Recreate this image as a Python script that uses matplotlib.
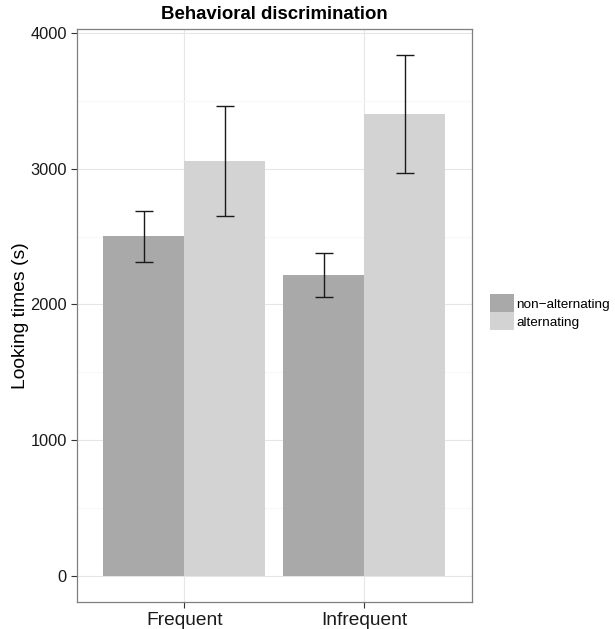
"""
Behavioral discrimination bar chart (looking times by condition)
"""
import matplotlib
matplotlib.use("Agg")
import matplotlib.pyplot as plt
import numpy as np
from matplotlib.ticker import MultipleLocator

plt.rcParams['font.family'] = ['Liberation Sans', 'DejaVu Sans']

# data
categories = ["Frequent", "Infrequent"]
series = ["non\u2212alternating", "alternating"]
means = {
    "non\u2212alternating": [2505, 2218],
    "alternating": [3058, 3405],
}
lower = {
    "non\u2212alternating": [2314, 2058],
    "alternating": [2648, 2968],
}
upper = {
    "non\u2212alternating": [2685, 2380],
    "alternating": [3458, 3839],
}
colors = {"non\u2212alternating": "#A9A9A9", "alternating": "#D3D3D3"}

fig = plt.figure(figsize=(6.15, 6.29), dpi=100)
ax = fig.add_axes([76.5 / 615, 1 - 601.9 / 629, (472 - 76.5) / 615, (601.9 - 28.7) / 629])

x = np.arange(1, len(categories) + 1)
width = 0.45
offsets = [-width / 2, width / 2]

handles = []
for name, off in zip(series, offsets):
    m = np.array(means[name])
    lo = m - np.array(lower[name])
    hi = np.array(upper[name]) - m
    h = ax.bar(x + off, m, width=width, color=colors[name], label=name, zorder=2, linewidth=0)
    handles.append(h)
    ax.errorbar(x + off, m, yerr=[lo, hi], fmt="none", ecolor="#1a1a1a",
                elinewidth=1.0, capsize=6.5, capthick=1.0, zorder=3)

ax.set_xlim(0.4, 2.6)
ax.set_ylim(-192, 4031)
ax.set_xticks(x)
ax.set_xticklabels(categories, fontsize=13.8)
ax.yaxis.set_major_locator(MultipleLocator(1000))
ax.yaxis.set_minor_locator(MultipleLocator(500))
ax.tick_params(axis="y", labelsize=11.8, length=4, width=0.8, pad=3)
ax.tick_params(axis="x", length=4, width=0.8, pad=3)
ax.tick_params(axis="y", which="minor", length=0)
ax.tick_params(axis="both", which="both", color="#333333", labelcolor="#1a1a1a")

ax.grid(True, which="major", color="#E6E6E6", linewidth=0.8, zorder=0)
ax.grid(True, which="minor", axis="y", color="#F7F7F7", linewidth=0.8, zorder=0)
ax.set_axisbelow(True)
for s in ax.spines.values():
    s.set_color("#7F7F7F")
    s.set_linewidth(0.9)

ax.set_ylabel("Looking times (s)", fontsize=13.9, labelpad=1)
ax.set_title("Behavioral discrimination", fontsize=13.4, fontweight="bold", pad=7)

fs = 9.7
fig.legend(handles=handles, labels=series, loc="upper left",
           bbox_to_anchor=(490 / 615, 1 - 294 / 629), frameon=False,
           fontsize=fs, borderpad=0, borderaxespad=0, labelspacing=0.0,
           handlelength=24 / (fs * 1.389), handleheight=23 / (fs * 1.389),
           handletextpad=0.15)

fig.savefig("out.png", dpi=100)
